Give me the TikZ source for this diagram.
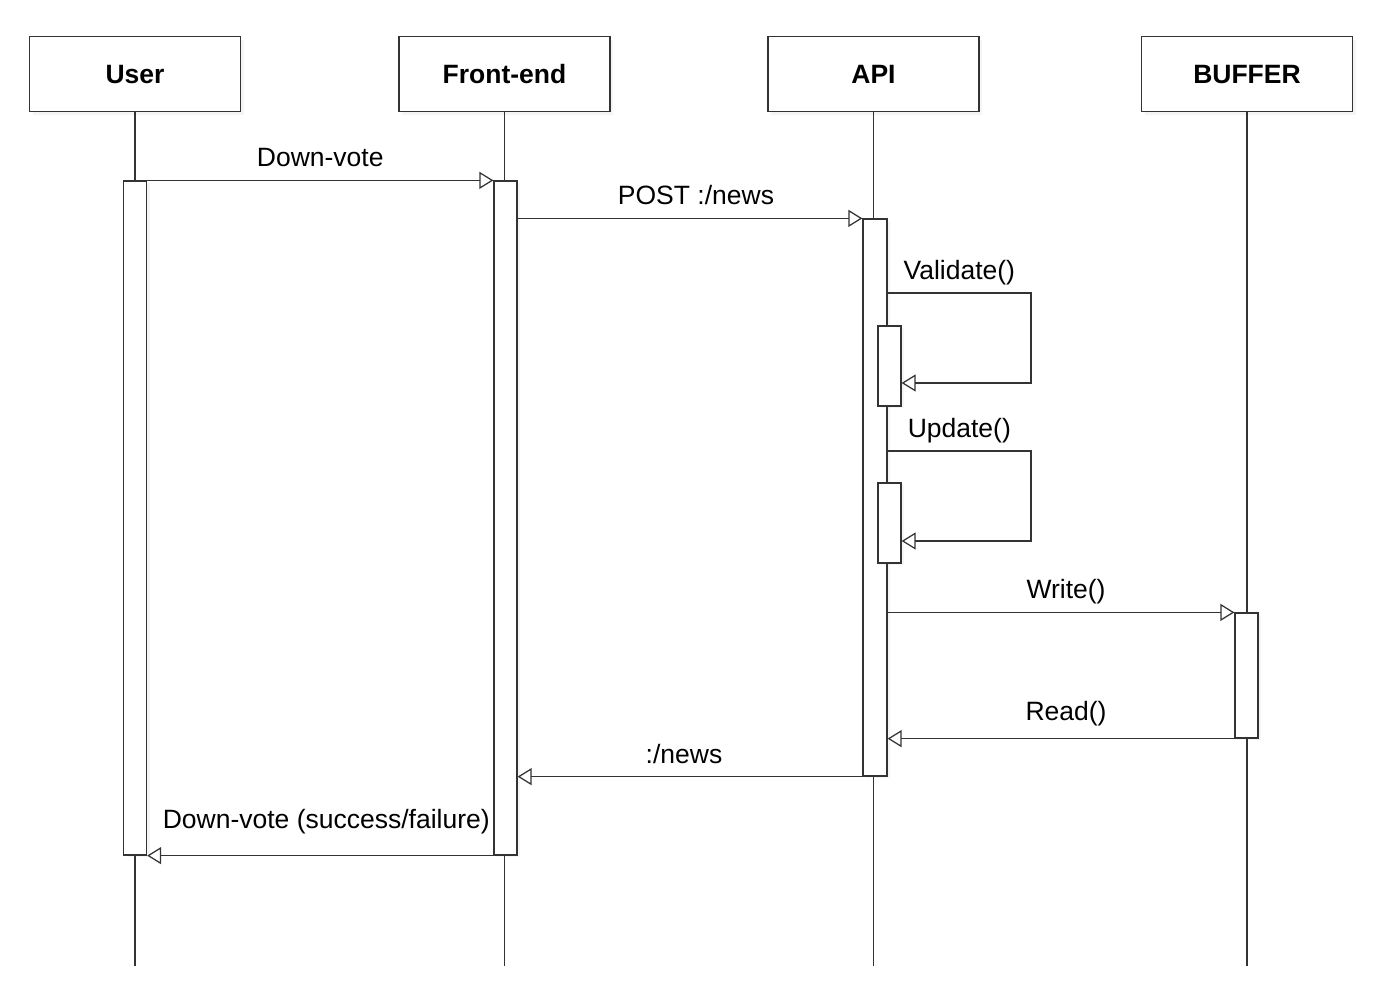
\documentclass[tikz,border=0pt]{standalone}
\usepackage{fontspec}
\setmainfont{Liberation Sans}
\usetikzlibrary{arrows.meta,calc,shadows}

\begin{document}
\begin{tikzpicture}[
    x=1pt, y=-1pt,
    font=\fontsize{26.5}{30}\selectfont,
    line width=1.25pt,
    actor/.style={draw=black!80, fill=white, font=\fontsize{26.5}{30}\selectfont\bfseries, text depth=0pt,
      minimum width=211pt, minimum height=75pt,
      drop shadow={opacity=0.08, shadow xshift=3pt, shadow yshift=-3pt}},
    bar/.style={draw=black!80, fill=white, minimum width=23pt, inner sep=0pt,
      drop shadow={opacity=0.08, shadow xshift=3pt, shadow yshift=-2pt}},
    life/.style={draw=black!80},
    msg/.style={draw=black!80, -{Triangle[open, length=14pt, width=17pt]}},
    lbl/.style={inner sep=0pt, text depth=0pt, above=13pt},
  ]
    \fill[white] (0,0) rectangle (1382,1004);
    \useasboundingbox (0,0) rectangle (1382,1004);

    % participants
    \node[actor] (user) at (135,74) {User};
    \node[actor] (front) at (504.5,74) {Front-end};
    \node[actor] (api) at (873.5,74) {API};
    \node[actor] (buffer) at (1247,74) {BUFFER};

    % lifelines
    \coordinate (bottom) at (0,966);
    \foreach \p in {user,front,api,buffer}
      \draw[life] (\p.south) -- (\p.south |- bottom);

    % activation bars
    \node[bar, minimum height=674pt] (ubar) at (135,518) {};
    \node[bar, minimum height=674pt] (fbar) at (505.5,518) {};
    \node[bar, minimum height=557pt, minimum width=24pt] (abar) at (875,497.5) {};
    \node[bar, minimum height=80pt] (vbar) at (889.5,366) {};
    \node[bar, minimum height=80pt] (updbar) at (889.5,523) {};
    \node[bar, minimum height=125pt] (bbar) at (1246.5,675.5) {};

    % messages
    \draw[msg] (ubar.north east) -- node[lbl] {Down-vote} (fbar.north west);
    \draw[msg] (fbar.east |- abar.north) -- node[lbl, xshift=6pt] {POST :/news} (abar.north west);

    \coordinate (vturn) at (1031,293);
    \coordinate (vback) at (1031,383);
    \draw[msg] (abar.east |- vturn) -- node[lbl] {Validate()} (vturn) -- (vback) -- (vbar.east |- vback);

    \coordinate (uturn) at (1031,451);
    \coordinate (uback) at (1031,541);
    \draw[msg] (abar.east |- uturn) -- node[lbl] {Update()} (uturn) -- (uback) -- (updbar.east |- uback);

    \draw[msg] (abar.east |- bbar.north) -- node[lbl, xshift=5pt] {Write()} (bbar.north west);
    \draw[msg] (bbar.south west) -- node[lbl, above=5pt, xshift=5pt] {Read()} (abar.east |- bbar.south);
    \draw[msg] (abar.south west) -- node[lbl, xshift=-6pt] {:/news} (fbar.east |- abar.south);
    \draw[msg] (fbar.south west) -- node[lbl, above=14pt, xshift=6pt] {Down-vote (success/failure)} (ubar.east |- fbar.south);
  \end{tikzpicture}
\end{document}
